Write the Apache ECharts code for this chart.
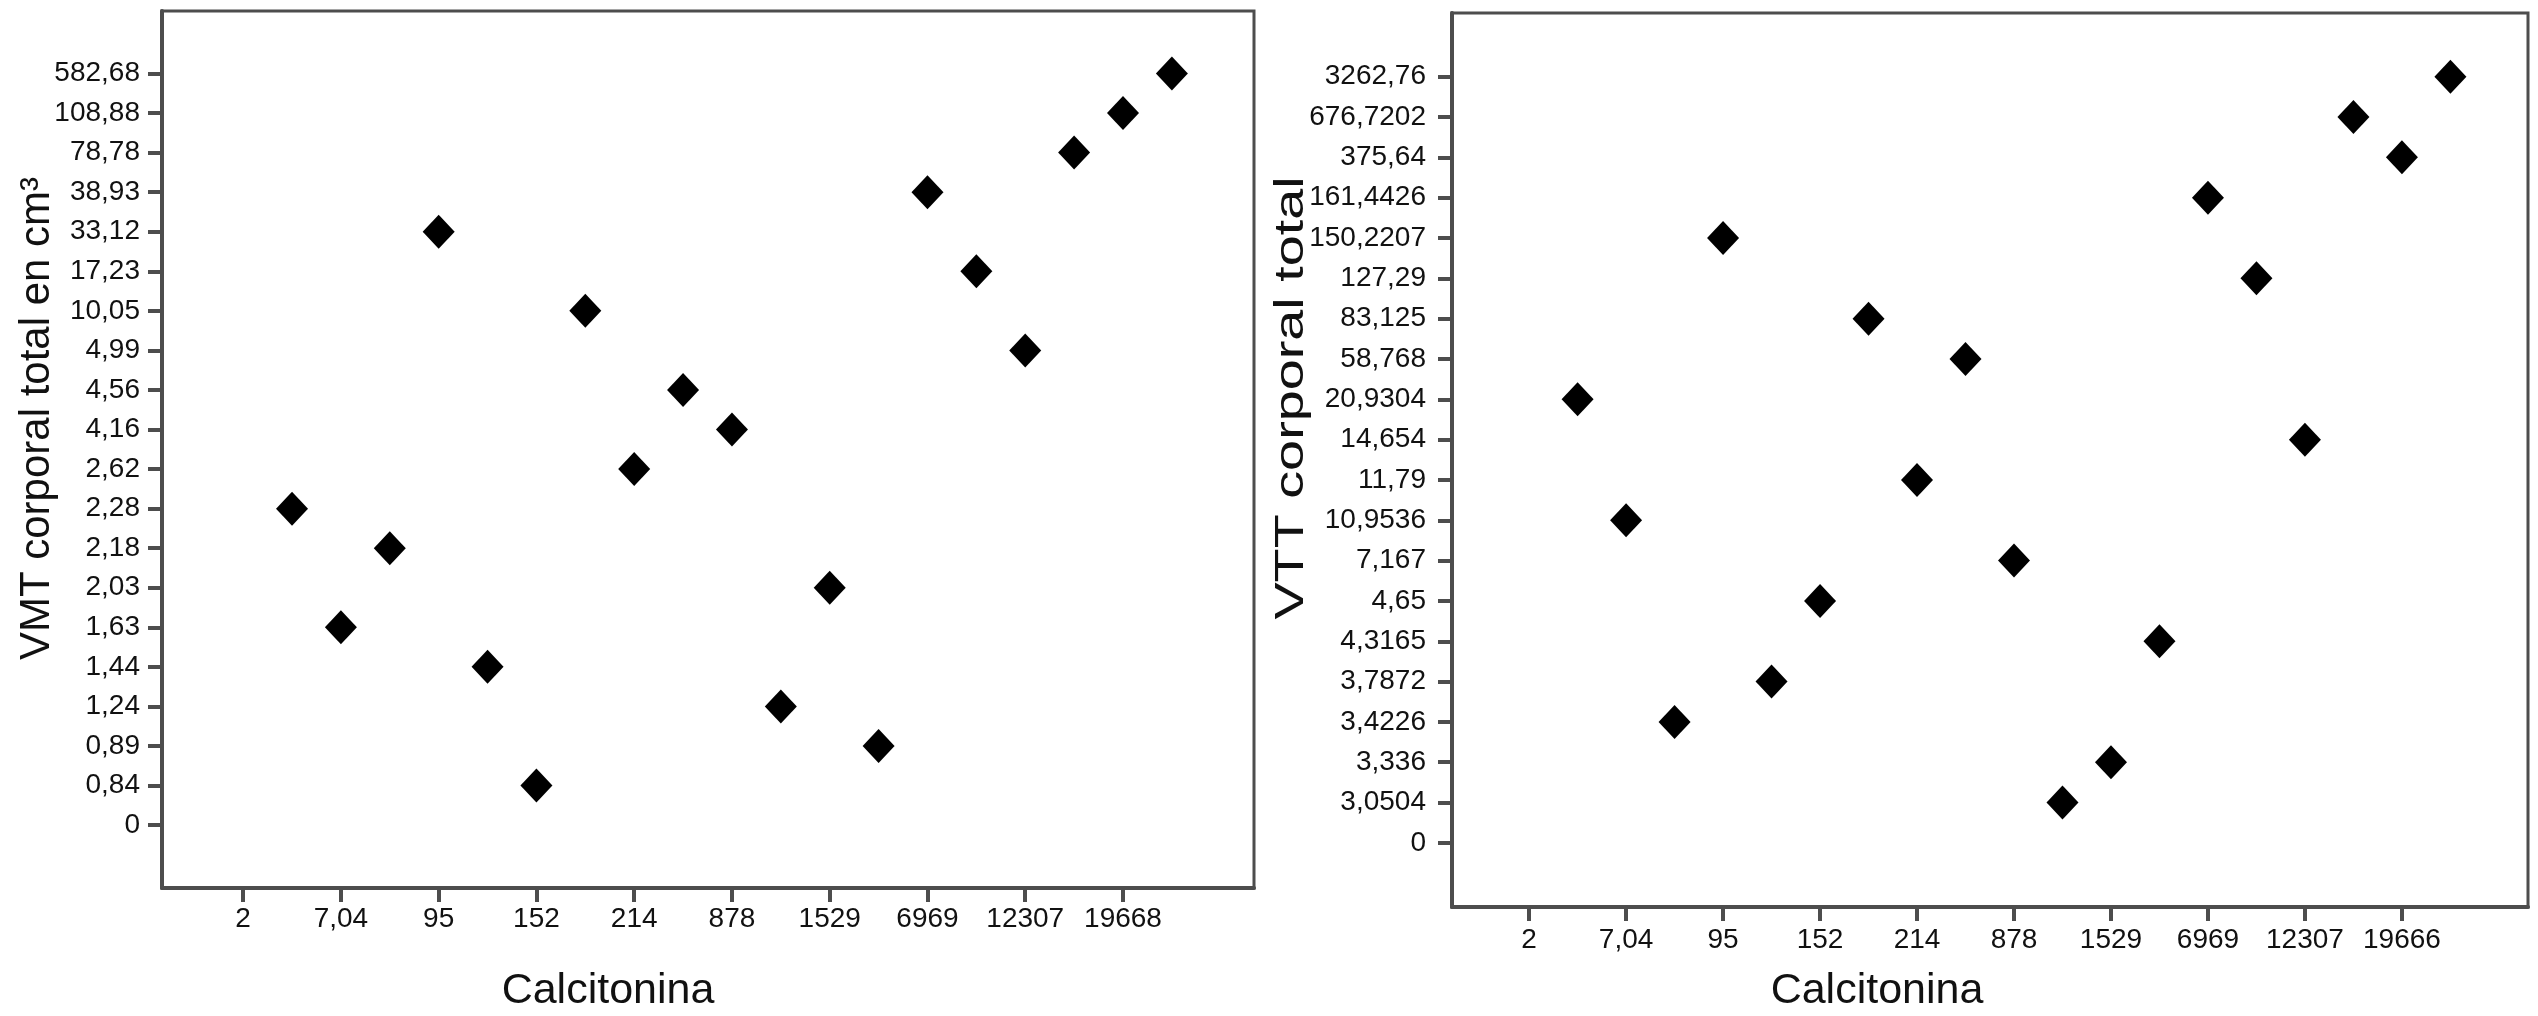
<!DOCTYPE html>
<html>
<head>
<meta charset="utf-8">
<script src="https://cdn.jsdelivr.net/npm/echarts@6/dist/echarts.min.js"></script>
<style>
  html, body { margin: 0; padding: 0; background: #fff; }
  #chart { width: 2538px; height: 1016px; }
</style>
</head>
<body>
<div id="chart"></div>
<script>
// categorias de calcitonina (solo se ven una de cada dos)
var calcitoninaIzq = ['2', '', '7,04', '', '95', '', '152', '', '214', '', '878', '', '1529', '', '6969', '', '12307', '', '19668', ''];
var calcitoninaDer = ['2', '', '7,04', '', '95', '', '152', '', '214', '', '878', '', '1529', '', '6969', '', '12307', '', '19666', ''];

// categorias del eje Y
var vmtLabels = ['0', '0,84', '0,89', '1,24', '1,44', '1,63', '2,03', '2,18', '2,28', '2,62', '4,16', '4,56', '4,99', '10,05', '17,23', '33,12', '38,93', '78,78', '108,88', '582,68'];
var vttLabels = ['0', '3,0504', '3,336', '3,4226', '3,7872', '4,3165', '4,65', '7,167', '10,9536', '11,79', '14,654', '20,9304', '58,768', '83,125', '127,29', '150,2207', '161,4426', '375,64', '676,7202', '3262,76'];

// valores por categoria de calcitonina (la primera no tiene punto visible)
var vmtValues = [null, '2,28', '1,63', '2,18', '33,12', '1,44', '0,84', '10,05', '2,62', '4,56', '4,16', '1,24', '2,03', '0,89', '38,93', '17,23', '4,99', '78,78', '108,88', '582,68'];
var vttValues = [null, '20,9304', '10,9536', '3,4226', '150,2207', '3,7872', '4,65', '83,125', '11,79', '58,768', '7,167', '3,0504', '3,336', '4,3165', '161,4426', '127,29', '14,654', '676,7202', '375,64', '3262,76'];

function toPoints(values, yLabels) {
	var pts = [];
	for (var i = 0; i < values.length; i++) {
		if (values[i] === null) continue;
		pts.push([i, yLabels.indexOf(values[i])]);
	}
	return pts;
}

function tickIdx(labels) {
	var out = [];
	labels.forEach(function (l, i) { if (l !== '') out.push(i); });
	return out;
}

function allIdx(labels) {
	return labels.map(function (l, i) { return i; });
}

var font = 'Liberation Sans, Arial, sans-serif';
var lineColor = '#4d4d4d';

function xAxisFor(grid, labels, padL, padR, gap, shift, margin) {
	return {
		type: 'value', gridIndex: grid,
		min: -padL, max: labels.length - 1 + padR,
		name: 'Calcitonina', nameLocation: 'middle', nameGap: gap, nameMoveOverlap: false,
		nameTextStyle: { fontFamily: font, fontSize: 43, color: '#111', padding: [0, shift, 0, 0] },
		axisLine: { onZero: false, lineStyle: { color: lineColor, width: 4 } },
		axisTick: { customValues: tickIdx(labels), length: 14, lineStyle: { color: lineColor, width: 4 } },
		axisLabel: {
			customValues: tickIdx(labels), margin: margin,
			fontFamily: font, fontSize: 28, color: '#111',
			formatter: function (v) { return labels[Math.round(v)]; }
		},
		splitLine: { show: false }
	};
}

function yAxisFor(grid, labels, name, gap, shift, margin) {
	return {
		type: 'value', gridIndex: grid,
		min: -1.59, max: labels.length - 1 + 1.58,
		name: name, nameLocation: 'middle', nameGap: gap, nameMoveOverlap: false,
		nameTextStyle: { fontFamily: font, fontSize: 42, color: '#111', padding: [0, 0, 0, shift] },
		axisLine: { onZero: false, lineStyle: { color: lineColor, width: 4 } },
		axisTick: { customValues: allIdx(labels), length: 14, lineStyle: { color: lineColor, width: 4 } },
		axisLabel: {
			customValues: allIdx(labels), margin: margin,
			fontFamily: font, fontSize: 28, color: '#111',
			formatter: function (v) { return labels[Math.round(v)]; }
		},
		splitLine: { show: false }
	};
}

var chart = echarts.init(document.getElementById('chart'));
var option = {
	backgroundColor: '#fff',
	animation: false,
	grid: [
		{ left: 162, width: 1092, top: 11, height: 877, outerBoundsMode: 'none', show: true, borderColor: lineColor, borderWidth: 3 },
		{ left: 1452, width: 1076, top: 13, height: 894, outerBoundsMode: 'none', show: true, borderColor: lineColor, borderWidth: 3 }
	],
	xAxis: [
		xAxisFor(0, calcitoninaIzq, 1.66, 1.68, 82, 200, 17),
		xAxisFor(1, calcitoninaDer, 1.59, 1.6, 63, 226, 19)
	],
	yAxis: [
		yAxisFor(0, vmtLabels, 'VMT corporal total en cm³', 104, 62, 22),
		yAxisFor(1, vttLabels, '', 130, 0, 26)
	],
	// el titulo del eje derecho va algo estirado en el original
	graphic: [{
		type: 'text', x: 1292, y: 398, rotation: Math.PI / 2, scaleX: 1.36,
		style: {
			text: 'VTT corporal total', fontFamily: font, fontSize: 41,
			fill: '#111', align: 'center', verticalAlign: 'middle'
		}
	}],
	series: [
		{
			type: 'scatter', xAxisIndex: 0, yAxisIndex: 0,
			symbol: 'diamond', symbolSize: [32, 34],
			itemStyle: { color: '#000', opacity: 1 },
			data: toPoints(vmtValues, vmtLabels)
		},
		{
			type: 'scatter', xAxisIndex: 1, yAxisIndex: 1,
			symbol: 'diamond', symbolSize: [32, 34],
			itemStyle: { color: '#000', opacity: 1 },
			data: toPoints(vttValues, vttLabels)
		}
	]
};
chart.setOption(option);
</script>
</body>
</html>
